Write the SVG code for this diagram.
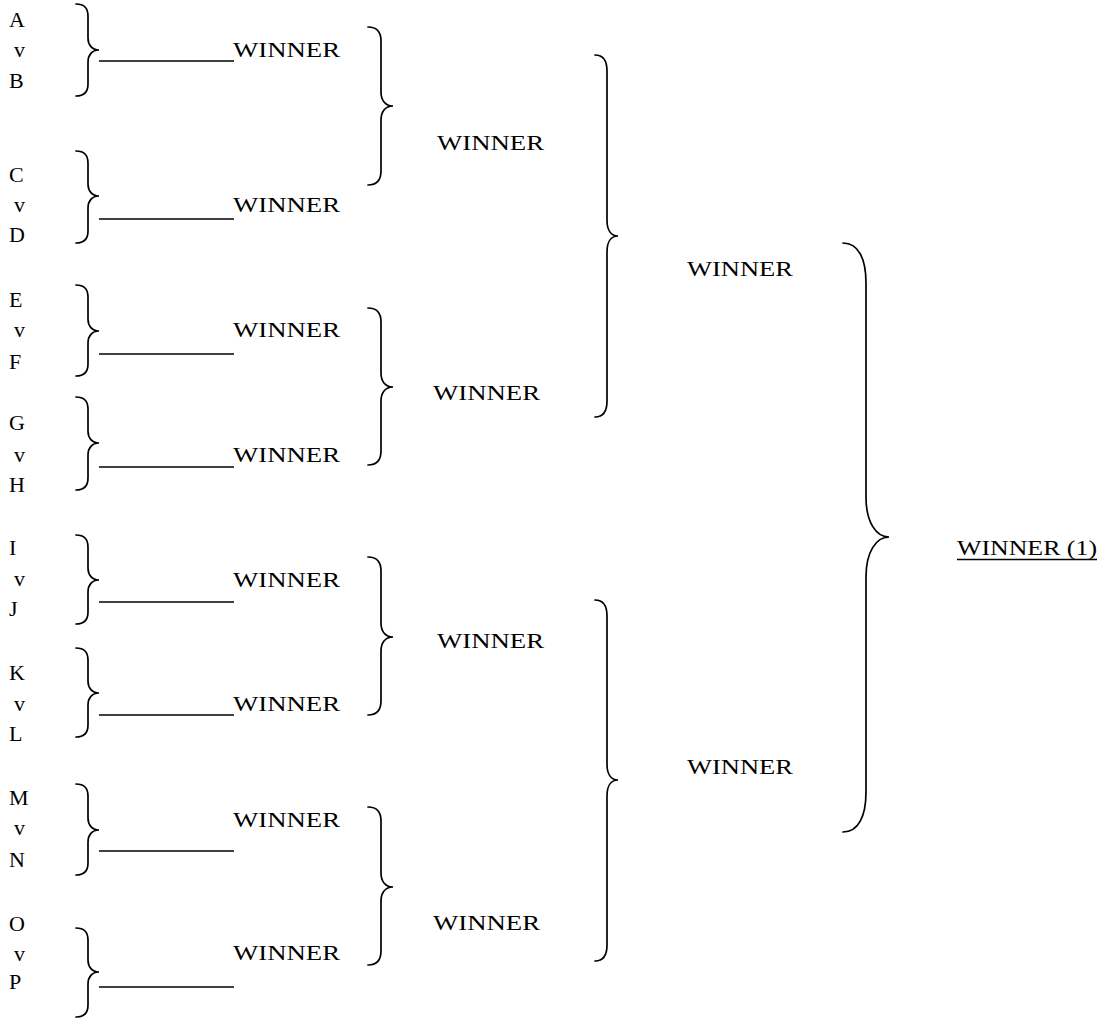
<svg xmlns="http://www.w3.org/2000/svg" width="1104" height="1019" viewBox="0 0 1104 1019">
<style>
text{font-family:"Liberation Serif","DejaVu Serif",serif;font-size:22px;fill:#000}
.b{fill:none;stroke:#000;stroke-width:1.7;stroke-linecap:round}
.l{stroke:#000;stroke-width:1.7}
</style>
<rect width="1104" height="1019" fill="#fff"/>
<g id="teams">
<g id="m1"><text x="9" y="27">A</text><text x="14" y="57">v</text><text x="9" y="88">B</text></g>
<g id="m2"><text x="9" y="182">C</text><text x="14" y="212">v</text><text x="9" y="242">D</text></g>
<g id="m3"><text x="9" y="307">E</text><text x="14" y="337">v</text><text x="9" y="369">F</text></g>
<g id="m4"><text x="9" y="430">G</text><text x="14" y="462">v</text><text x="9" y="492">H</text></g>
<g id="m5"><text x="9" y="555">I</text><text x="14" y="586">v</text><text x="9" y="616">J</text></g>
<g id="m6"><text x="9" y="680">K</text><text x="14" y="711">v</text><text x="9" y="741">L</text></g>
<g id="m7"><text x="9" y="805">M</text><text x="14" y="835">v</text><text x="9" y="867">N</text></g>
<g id="m8"><text x="9" y="931">O</text><text x="14" y="961">v</text><text x="9" y="989">P</text></g>
</g>
<g id="round1">
<text x="233" y="57" textLength="107" lengthAdjust="spacingAndGlyphs">WINNER</text>
<text x="233" y="212" textLength="107" lengthAdjust="spacingAndGlyphs">WINNER</text>
<text x="233" y="337" textLength="107" lengthAdjust="spacingAndGlyphs">WINNER</text>
<text x="233" y="462" textLength="107" lengthAdjust="spacingAndGlyphs">WINNER</text>
<text x="233" y="587" textLength="107" lengthAdjust="spacingAndGlyphs">WINNER</text>
<text x="233" y="711" textLength="107" lengthAdjust="spacingAndGlyphs">WINNER</text>
<text x="233" y="827" textLength="107" lengthAdjust="spacingAndGlyphs">WINNER</text>
<text x="233" y="960" textLength="107" lengthAdjust="spacingAndGlyphs">WINNER</text>
</g>
<g id="round2">
<text x="437" y="150" textLength="107" lengthAdjust="spacingAndGlyphs">WINNER</text>
<text x="433" y="400" textLength="107" lengthAdjust="spacingAndGlyphs">WINNER</text>
<text x="437" y="648" textLength="107" lengthAdjust="spacingAndGlyphs">WINNER</text>
<text x="433" y="930" textLength="107" lengthAdjust="spacingAndGlyphs">WINNER</text>
</g>
<g id="round3">
<text x="687" y="276" textLength="106" lengthAdjust="spacingAndGlyphs">WINNER</text>
<text x="687" y="774" textLength="106" lengthAdjust="spacingAndGlyphs">WINNER</text>
</g>
<g id="final">
<text x="957" y="555" textLength="140" lengthAdjust="spacingAndGlyphs">WINNER (1)</text>
<line class="l" x1="957" y1="559.5" x2="1097" y2="559.5"/>
</g>
<g id="connectors">
<path class="b" d="M76,4 C84,4 88,8 88,16 L88,38 C88,45 92,50 99,50 C92,50 88,55 88,62 L88,84 C88,92 84,96 76,96"/>
<path class="b" d="M76,151 C84,151 88,155 88,163 L88,184 C88,191 92,196 99,196 C92,196 88,201 88,208 L88,231 C88,239 84,243 76,243"/>
<path class="b" d="M76,285 C84,285 88,289 88,297 L88,319 C88,326 92,331 99,331 C92,331 88,336 88,343 L88,364 C88,372 84,376 76,376"/>
<path class="b" d="M76,397 C84,397 88,401 88,409 L88,431 C88,438 92,443 99,443 C92,443 88,448 88,455 L88,478 C88,486 84,490 76,490"/>
<path class="b" d="M76,535 C84,535 88,539 88,547 L88,568 C88,575 92,580 99,580 C92,580 88,585 88,592 L88,612 C88,620 84,624 76,624"/>
<path class="b" d="M76,648 C84,648 88,652 88,660 L88,681 C88,688 92,693 99,693 C92,693 88,698 88,705 L88,725 C88,733 84,737 76,737"/>
<path class="b" d="M76,784 C84,784 88,788 88,796 L88,818 C88,825 92,830 99,830 C92,830 88,835 88,842 L88,863 C88,871 84,875 76,875"/>
<path class="b" d="M76,928 C84,928 88,932 88,940 L88,960 C88,967 92,972 99,972 C92,972 88,977 88,984 L88,1005 C88,1013 84,1017 76,1017"/>
<line class="l" x1="99" y1="61" x2="234" y2="61"/>
<line class="l" x1="99" y1="219" x2="234" y2="219"/>
<line class="l" x1="99" y1="354" x2="234" y2="354"/>
<line class="l" x1="99" y1="467" x2="234" y2="467"/>
<line class="l" x1="99" y1="602" x2="234" y2="602"/>
<line class="l" x1="99" y1="715" x2="234" y2="715"/>
<line class="l" x1="99" y1="851" x2="234" y2="851"/>
<line class="l" x1="99" y1="987" x2="234" y2="987"/>
<path class="b" d="M368,27 C377,27 381,32 381,41 L381,92 C381,100 385,106 393,106 C385,106 381,112 381,120 L381,171 C381,180 377,185 368,185"/>
<path class="b" d="M368,308 C377,308 381,313 381,322 L381,373 C381,381 385,387 393,387 C385,387 381,393 381,401 L381,451 C381,460 377,465 368,465"/>
<path class="b" d="M368,557 C377,557 381,562 381,571 L381,623 C381,631 385,637 393,637 C385,637 381,643 381,651 L381,701 C381,710 377,715 368,715"/>
<path class="b" d="M368,807 C377,807 381,812 381,821 L381,873 C381,881 385,887 393,887 C385,887 381,893 381,901 L381,951 C381,960 377,965 368,965"/>
<path class="b" d="M595,55 C603,55 607,61 607,71 L607,220 C607,230 611,236 618,236 C611,236 607,242 607,252 L607,401 C607,411 603,417 595,417"/>
<path class="b" d="M595,600 C603,600 607,606 607,616 L607,764 C607,774 611,780 618,780 C611,780 607,786 607,796 L607,945 C607,955 603,961 595,961"/>
<path class="b" d="M843,243 C858,243 866,258 866,283 L866,497 C866,522 876,537 889,537 C876,537 866,552 866,577 L866,792 C866,817 858,832 843,832"/>
</g>
</svg>
